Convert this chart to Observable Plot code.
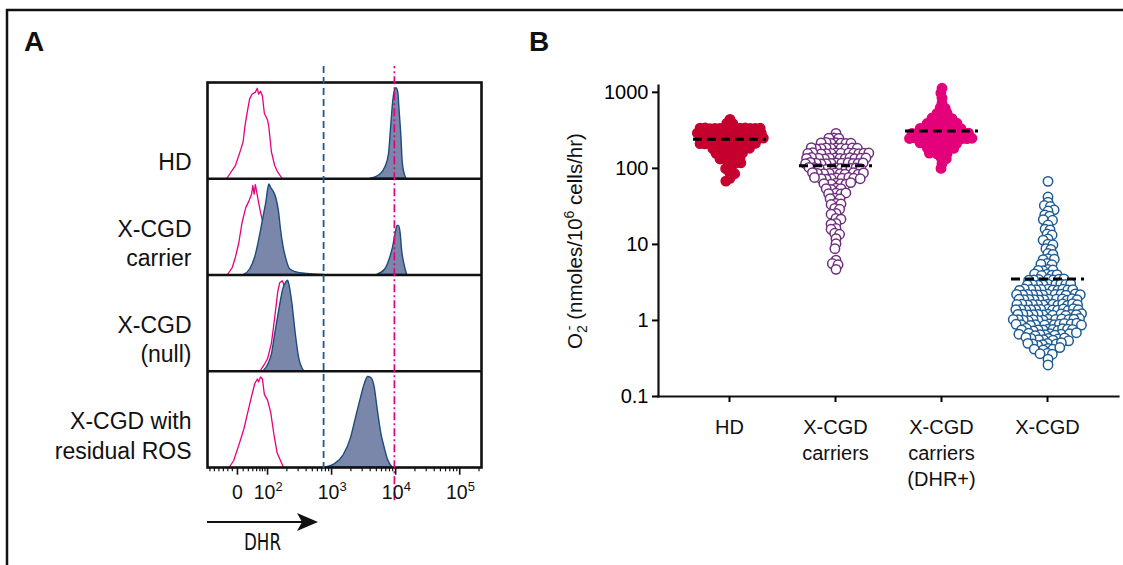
<!DOCTYPE html>
<html><head><meta charset="utf-8">
<script src="https://cdn.jsdelivr.net/npm/d3@7"></script>
<script src="https://cdn.jsdelivr.net/npm/@observablehq/plot@0.6"></script>
<style>
html,body{margin:0;padding:0;background:#fff}
#fig{position:relative;width:1123px;height:565px;overflow:hidden;background:#fff;font-family:"Liberation Sans",Arial,sans-serif}
#fig svg{position:absolute;max-width:none}
</style></head><body><div id="fig"></div>
<script>
// ---------------- Panel A data (x in display decades, h = relative count) ----------------
const rowKeys = ["HD", "carrier", "null", "ROS"];
const rowLabels = ["HD", "X-CGD\ncarrier", "X-CGD\n(null)", "X-CGD with\nresidual ROS"];

const hdCtrlU = [1.36,1.50,1.58,1.62,1.645,1.68,1.72,1.76,1.81,1.84,1.86,1.89,1.92,1.95,2.00,2.02,2.06,2.11,2.15,2.23];
const hdCtrlH = [0,0.14,0.30,0.39,0.54,0.68,0.83,0.88,0.90,0.94,0.88,0.91,0.86,0.68,0.61,0.54,0.28,0.14,0.08,0];
const hdDhrU = [3.61,3.77,3.84,3.895,3.93,3.96,3.99,4.01,4.04,4.06,4.09,4.11,4.14,4.17];
const hdDhrH = [0,0.05,0.12,0.25,0.54,0.79,0.92,0.94,0.90,0.72,0.43,0.17,0.05,0];

const carCtrlU = [1.37,1.45,1.50,1.55,1.60,1.66,1.71,1.75,1.77,1.79,1.81,1.85,1.89,1.93,2.00,2.05,2.09];
const carCtrlH = [0,0.08,0.19,0.33,0.54,0.70,0.77,0.84,0.93,0.84,0.94,0.79,0.65,0.54,0.29,0.08,0];
const carDhrU1 = [1.63,1.73,1.81,1.88,1.94,1.98,2.01,2.03,2.06,2.10,2.14,2.18,2.21,2.25,2.30,2.35,2.44,2.62,2.88];
const carDhrH1 = [0,0.06,0.19,0.40,0.61,0.75,0.89,0.94,0.90,0.86,0.79,0.65,0.47,0.29,0.15,0.06,0.03,0.01,0];
const carDhrU2 = [3.71,3.84,3.92,3.96,4.00,4.03,4.05,4.08,4.10,4.14,4.18];
const carDhrH2 = [0,0.06,0.19,0.29,0.43,0.51,0.51,0.42,0.26,0.10,0];

const nullCtrlU = [1.88,1.94,2.00,2.06,2.11,2.16,2.19,2.23,2.25,2.30,2.36,2.44];
const nullCtrlH = [0,0.06,0.13,0.29,0.55,0.83,0.92,0.94,0.91,0.69,0.30,0];
const nullDhrU = [1.94,2.02,2.07,2.125,2.19,2.245,2.29,2.32,2.34,2.39,2.44,2.49,2.57];
const nullDhrH = [0,0.08,0.18,0.41,0.66,0.85,0.92,0.94,0.90,0.69,0.39,0.15,0];

const rosCtrlU = [1.40,1.47,1.55,1.63,1.69,1.75,1.80,1.84,1.86,1.89,1.92,1.95,2.00,2.05,2.10,2.15,2.25];
const rosCtrlH = [0,0.07,0.23,0.40,0.57,0.74,0.87,0.92,0.89,0.94,0.92,0.76,0.70,0.57,0.34,0.15,0];
const rosDhrU = [2.91,3.04,3.19,3.30,3.375,3.45,3.52,3.57,3.62,3.67,3.72,3.78,3.83,3.88,3.95];
const rosDhrH = [0,0.03,0.13,0.30,0.50,0.70,0.87,0.94,0.93,0.84,0.60,0.34,0.20,0.08,0];

const dhrZeroPos = 1.53;
const dhrZeroLabel = "0";
const dhrDecadePos = [2, 3, 4, 5];
const dhrDecadeExp = ["2", "3", "4", "5"];
const dhrLinearMinor = [1.10,1.17,1.24,1.31,1.38,1.45,1.62,1.70,1.77,1.83,1.88,1.92,1.96];
const gateLow = 2.875, gateHigh = 3.98;

// ---------------- Panel B data ----------------
const groups = ["HD", "X-CGD carriers", "X-CGD carriers (DHR+)", "X-CGD"];
const groupLabels = ["HD", "X-CGD\ncarriers", "X-CGD\ncarriers\n(DHR+)", "X-CGD"];
const yTicks = [0.1, 1, 10, 100, 1000];
const yTickLabels = ["0.1", "1", "10", "100", "1000"];
const medians = [241, 108, 310, 3.5];

const hdValues = [440, 392,388,
 338,336,340,334,337,335,339,333,336,341,334,338,337,
 290,288,292,286,289,291,287,290,293,285,289,288,290,
 249,247,250,246,248,251,247,249,252,245,248,247,250,
 214,212,215,211,213,216,212,214,217,210,213,212,
 184,182,185,181,183,186,182,184,
 159,157,158,156,160,158,
 136,134,135,137,133,
 117,115,118,
 101,99, 87,85, 74, 68];

const carrierValues = [289,
 252,248,250,
 217,213,215,219,212,216,214,
 185,183,184,181,186,182,185,180,184,187,
 159,157,158,156,160,155,158,161,156,158,157,159,
 137,135,136,134,138,133,136,139,134,136,135,137,
 118,116,117,115,119,114,117,120,116,116,118,115,
 101,99,100,98,102,97,100,103,99,101,99,
 87,85,86,84,88,85,86,88,84,87,
 75,73,74,72,76,73,74,76,73,
 64,62,63,62,65,63,
 55,53,54,54,
 47,46,46.5,47.5,
 40.5,39.5,40,
 34.5,33.5,34,
 29.8,29, 25.6,25, 22,21.5, 18.9,18.5, 16.2,15.8, 14,13.6,
 11.9, 10.2, 8.8, 6.2, 5.6,5.4, 4.7];

const dhrPosValues = [1130,975,840,720,
 625,615,
 535,528,532,
 458,452,455,460,450,
 393,388,391,386,395,389,392,
 339,334,337,332,340,335,338,333,336,
 291,287,290,285,292,288,289,286,293,287,290,288,
 250,246,249,245,251,247,248,246,252,246,249,247,
 215,211,214,210,216,212,213,217,
 185,181,184,180,186,183,
 158,156,159,155,
 136,134, 116, 100];

const xcgdValues = [67.5,
 42,36, 32.5,31.5, 28.5,27.5, 24.5,23.5, 21.2,20.8, 18,
 15.9,15.5, 13.7,13.3, 11.8,11.4, 10.1,9.9, 8.8,8.6, 7.6,7.4,
 6.5,6.3,6.4, 5.6,5.4,5.5,
 4.7,4.5,4.6,4.55,
 4.05,3.95,4.0,4.1,3.9,
 3.5,3.4,3.45,3.48,3.42,3.52,3.38,
 3.0,2.93,2.98,2.9,3.02,2.95,2.97,2.92,3.04,
 2.57,2.52,2.55,2.5,2.58,2.53,2.56,2.51,2.59,2.54,2.49,
 2.21,2.17,2.2,2.16,2.22,2.18,2.19,2.15,2.23,2.17,2.2,2.18,
 1.91,1.87,1.9,1.86,1.92,1.88,1.89,1.85,1.93,1.87,1.9,1.88,
 1.64,1.6,1.63,1.59,1.65,1.61,1.62,1.58,1.66,1.6,1.63,1.61,1.62,
 1.41,1.37,1.4,1.36,1.42,1.38,1.39,1.35,1.43,1.37,1.4,1.38,1.39,
 1.21,1.18,1.2,1.17,1.22,1.19,1.2,1.16,1.23,1.18,1.21,1.19,1.2,
 1.04,1.01,1.03,1.0,1.05,1.02,1.03,0.99,1.06,1.01,1.04,1.02,1.03,
 0.9,0.88,0.89,0.87,0.91,0.88,0.9,0.86,0.92,0.88,0.89,0.87,
 0.77,0.75,0.76,0.74,0.78,0.75,0.77,0.73,0.79,0.76,0.75,
 0.67,0.65,0.66,0.64,0.68,0.65,0.67,0.63,0.69,0.66,
 0.58,0.56,0.57,0.55,0.59,0.56,0.58,0.54,0.6,
 0.5,0.48,0.49,0.47,0.51,0.49,0.5,
 0.43,0.41,0.42,0.44,0.42,
 0.37,0.36,0.365, 0.31, 0.26];

// ---------------- styles ----------------
const FONT = "Liberation Sans, Arial, sans-serif";
const PINK = "#e5007e", NAVY = "#1b4c7c", SLATE = "#7b86ab", GATEBLUE = "#1f5a8e";
const groupStyle = [
  {fill: "#c5002e", stroke: "#c5002e"},
  {fill: "white", stroke: "#6d2e7e"},
  {fill: "#e3007b", stroke: "#e3007b"},
  {fill: "white", stroke: "#1e5b92"}
];
const groupValues = [hdValues, carrierValues, dhrPosValues, xcgdValues];

// ---------------- build tables ----------------
function curveTable(key, row, U, H) {
  const base = rowKeys.length - 1 - rowKeys.indexOf(row);
  return U.map((u, i) => ({key, u, base, top: base + H[i]}));
}
const ctrlTable = [
  ...curveTable("HD", "HD", hdCtrlU, hdCtrlH),
  ...curveTable("carrier", "carrier", carCtrlU, carCtrlH),
  ...curveTable("null", "null", nullCtrlU, nullCtrlH),
  ...curveTable("ROS", "ROS", rosCtrlU, rosCtrlH)
];
const dhrTable = [
  ...curveTable("HD", "HD", hdDhrU, hdDhrH),
  ...curveTable("carrier1", "carrier", carDhrU1, carDhrH1),
  ...curveTable("carrier2", "carrier", carDhrU2, carDhrH2),
  ...curveTable("null", "null", nullDhrU, nullDhrH),
  ...curveTable("ROS", "ROS", rosDhrU, rosDhrH)
];
const xDomainA = [1.0625, 5.34];
const logMinor = [];
for (const n of [2, 3, 4, 5]) for (let k = 2; k <= 9; k++) { const v = n + Math.log10(k); if (v < xDomainA[1]) logMinor.push(v); }
const minorTicks = [...dhrLinearMinor, ...logMinor];
const majorTicks = [dhrZeroPos, ...dhrDecadePos];
const rowLabelTable = rowLabels.map((t, i) => ({t, base: rowKeys.length - 1 - i}));
const decadeTable = dhrDecadePos.map((u, i) => ({u, exp: dhrDecadeExp[i]}));

const fig = document.getElementById("fig");

// ---------------- Panel A ----------------
const pa = Plot.plot({
  width: 500, height: 560,
  marginLeft: 207, marginRight: 19, marginTop: 82, marginBottom: 93,
  x: {domain: xDomainA, axis: null},
  y: {domain: [0, 4], axis: null},
  style: {fontFamily: FONT, background: "transparent", overflow: "visible", color: "#000"},
  marks: [
    Plot.line(ctrlTable, {x: "u", y: "top", z: "key", stroke: PINK, strokeWidth: 1.3}),
    Plot.area(dhrTable, {x1: "u", y1: "base", y2: "top", z: "key", fill: SLATE, stroke: NAVY, strokeWidth: 1.4, curve: "monotone-x"}),
    Plot.ruleY([1, 2, 3], {stroke: "#111", strokeWidth: 2.5}),
    Plot.frame({stroke: "#111", strokeWidth: 2.6}),
    Plot.ruleX([gateLow], {y1: -0.02, y2: 4.166, stroke: GATEBLUE, strokeWidth: 1.8, strokeDasharray: "7,4"}),
    Plot.ruleX([gateHigh], {y1: -0.345, y2: 4.166, stroke: PINK, strokeWidth: 1.7, strokeDasharray: "8,3,2,3"}),
    Plot.ruleX(minorTicks, {x: d => d, y1: 0, y2: -0.045, stroke: "#111", strokeWidth: 1.2}),
    Plot.ruleX(majorTicks, {x: d => d, y1: 0, y2: -0.08, stroke: "#111", strokeWidth: 1.6}),
    Plot.text([dhrZeroLabel], {x: () => dhrZeroPos, frameAnchor: "bottom", text: d => d, textAnchor: "middle", lineAnchor: "top", dy: 18, fontSize: 19.5, fill: "#111"}),
    Plot.text(decadeTable, {x: "u", frameAnchor: "bottom", text: () => "10", textAnchor: "middle", dx: -3, lineAnchor: "top", dy: 18, fontSize: 19.5, fill: "#111"}),
    Plot.text(decadeTable, {x: "u", frameAnchor: "bottom", text: "exp", textAnchor: "start", dx: 8, lineAnchor: "top", dy: 14, fontSize: 13, fill: "#111"}),
    Plot.text(rowLabelTable, {frameAnchor: "left", y: "base", text: "t", textAnchor: "end", lineAnchor: "bottom", dx: -16, dy: -9, fontSize: 23, lineHeight: 1.27, fill: "#111"})
  ]
});
pa.style.left = "0px"; pa.style.top = "0px";
fig.appendChild(pa);

// ---------------- Panel B axes ----------------
const dimsB = {width: 583, height: 520, marginLeft: 118, marginRight: 5, marginTop: 85, marginBottom: 124};
const yB = {type: "log", domain: [0.1, 1230]};
const pb = Plot.plot({
  ...dimsB,
  x: {type: "point", domain: groups, padding: 0.6556},
  y: {...yB},
  style: {fontFamily: FONT, background: "transparent", overflow: "visible", color: "#000"},
  marks: [
    Plot.frame({anchor: "left", stroke: "#111", strokeWidth: 2.2}),
    Plot.frame({anchor: "bottom", stroke: "#111", strokeWidth: 2.2}),
    Plot.axisY({ticks: yTicks, tickFormat: d => yTickLabels[yTicks.indexOf(d)], tickSize: 6, tickPadding: 4, fontSize: 20, strokeWidth: 2, label: null}),
    Plot.axisX({tickSize: 6, tickFormat: () => "", strokeWidth: 2, label: null}),
    Plot.text(groups, {x: d => d, frameAnchor: "bottom", text: (d, i) => groupLabels[i], lineAnchor: "top", dy: 19, fontSize: 20, lineHeight: 1.3, fill: "#111"})
  ]
});
pb.style.left = "540px"; pb.style.top = "0px";
const yt = d3.select(pb).append("text")
  .attr("transform", "translate(42,241) rotate(-90)")
  .attr("text-anchor", "middle").attr("font-size", 20.5).attr("fill", "#111").attr("font-family", FONT);
yt.append("tspan").text("O");
yt.append("tspan").attr("font-size", 14).attr("dy", 5).text("2");
yt.append("tspan").attr("font-size", 14).attr("dx", -5).attr("dy", -13).text("-");
yt.append("tspan").attr("dy", 8).text(" (nmoles/10");
yt.append("tspan").attr("font-size", 14).attr("dy", -8).text("6");
yt.append("tspan").attr("dy", 8).text(" cells/hr)");
fig.appendChild(pb);

// ---------------- Panel B swarms ----------------
const medianTable = groups.map((g, i) => ({g, v: medians[i]}));
const pd = Plot.plot({
  ...dimsB,
  fx: {domain: groups, paddingInner: 0.316, paddingOuter: 0.3135, axis: null},
  y: {...yB, axis: null},
  style: {fontFamily: FONT, background: "transparent", overflow: "visible"},
  marks: [
    ...groups.map((g, i) => Plot.dot(groupValues[i], Plot.dodgeX({anchor: "middle", padding: 0}, {
      fx: () => g, y: d => d, r: 2.5,
      fill: groupStyle[i].fill, stroke: groupStyle[i].stroke, strokeWidth: 1.5
    }))),
    Plot.ruleY(medianTable, {fx: "g", y: "v", stroke: "#000", strokeWidth: 3, strokeDasharray: "9,5"})
  ]
});
d3.select(pd).selectAll("circle").attr("r", 4.7);
pd.style.left = "540px"; pd.style.top = "0px";
fig.appendChild(pd);

// ---------------- annotations ----------------
const xA = pa.scale("x");
const ann = d3.create("svg").attr("width", 1123).attr("height", 565).attr("viewBox", "0 0 1123 565")
  .style("left", "0px").style("top", "0px").style("pointer-events", "none");
ann.append("path").attr("d", "M7,565 L7,10 L1123,10").attr("fill", "none").attr("stroke", "#111").attr("stroke-width", 2.5);
ann.append("text").attr("x", 24).attr("y", 51).attr("font-size", 28).attr("font-weight", 700).attr("font-family", FONT).attr("fill", "#111").text("A");
ann.append("text").attr("x", 529).attr("y", 51).attr("font-size", 28).attr("font-weight", 700).attr("font-family", FONT).attr("fill", "#111").text("B");
const ax0 = xA.apply(xDomainA[0]), ax1 = ax0 + 111;
ann.append("line").attr("x1", ax0).attr("x2", ax1 - 14).attr("y1", 522).attr("y2", 522).attr("stroke", "#111").attr("stroke-width", 2);
ann.append("path").attr("d", `M${ax1},522 L${ax1 - 21},513 L${ax1 - 16},522 L${ax1 - 21},531 Z`).attr("fill", "#111");
ann.append("text").attr("x", (ax0 + ax1) / 2 - 18.5).attr("y", 550).attr("text-anchor", "start")
  .attr("font-size", 23).attr("font-family", "Liberation Sans Narrow, DejaVu Sans Condensed, Arial Narrow, sans-serif")
  .attr("textLength", 37).attr("lengthAdjust", "spacingAndGlyphs").attr("fill", "#111").text("DHR");
fig.appendChild(ann.node());
</script></body></html>
